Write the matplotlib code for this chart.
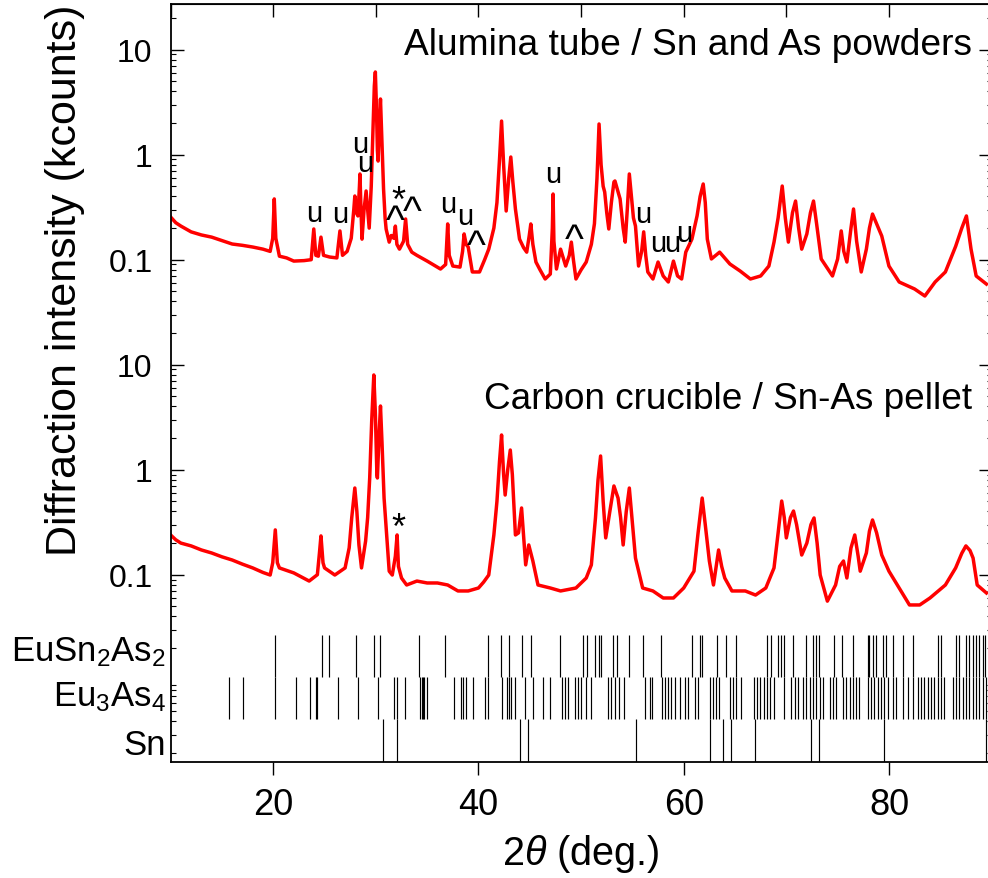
import numpy as np
import matplotlib
matplotlib.use("Agg")
import matplotlib.pyplot as plt
from matplotlib.ticker import FixedLocator, FixedFormatter, LogLocator, NullFormatter

plt.rcParams['font.family'] = ['Liberation Sans', 'DejaVu Sans']
plt.rcParams['mathtext.fontset'] = 'custom'
plt.rcParams['mathtext.rm'] = 'Liberation Sans'
plt.rcParams['mathtext.it'] = 'Liberation Sans:italic'

# Pattern 1: alumina tube / Sn and As powders (kcounts)
tth_top = [10, 10.5, 11, 12, 13, 14, 15, 16, 17, 18, 19, 19.7, 19.95, 20.1, 20.25, 20.6, 21.3,
           22, 23, 23.7, 23.95, 24.15, 24.4, 24.65, 24.9, 25.5, 26.2, 26.5, 26.75, 27.2, 27.6,
           27.85, 27.95, 28.1, 28.25, 28.4, 28.45, 28.55, 28.65, 28.85, 29.05, 29.2, 29.35,
           29.55, 29.7, 29.85, 29.95, 30.05, 30.15, 30.22, 30.32, 30.45, 30.6, 30.75, 30.9,
           31.0, 31.3, 31.5, 31.75, 31.9, 32.05, 32.3, 32.7, 32.9, 33.1, 33.5, 34, 35, 36.3,
           36.8, 37.0, 37.15, 37.5, 38.2, 38.45, 38.6, 38.8, 39.0, 39.4, 40.1, 40.6, 41.0,
           41.5, 41.8, 42.05, 42.25, 42.45, 42.7, 42.95, 43.15, 43.35, 43.6, 44.0, 44.4, 44.7,
           44.95, 45.1, 45.3, 45.6, 46.0, 46.5, 47.0, 47.2, 47.27, 47.35, 47.6, 48.0, 48.5,
           48.85, 49.05, 49.25, 49.5, 50.0, 50.5, 51.0, 51.3, 51.55, 51.75, 51.95, 52.15,
           52.3, 52.5, 52.7, 52.95, 53.2, 53.3, 53.5, 53.8, 54.1, 54.3, 54.5, 54.7, 54.9,
           55.1, 55.3, 55.6, 55.9, 56.1, 56.3, 56.5, 57.0, 57.5, 58.0, 58.5, 59.0, 59.4, 59.8,
           60.2, 60.8, 61.3, 61.6, 61.9, 62.1, 62.3, 62.7, 63.5, 64.5, 65.5, 66.5, 67.5, 68.3,
           68.8, 69.2, 69.6, 69.9, 70.2, 70.6, 70.9, 71.2, 71.5, 72.0, 72.35, 72.65, 72.95,
           73.4, 74.5, 75.0, 75.35, 75.6, 75.9, 76.3, 76.55, 76.85, 77.3, 77.8, 78.1, 78.4,
           78.8, 79.3, 80.0, 81.0, 82.5, 83.5, 84.5, 85.5, 86.5, 87.1, 87.55, 88.0, 88.5, 89.5]
int_top = [0.255, 0.225, 0.209, 0.184, 0.172, 0.164, 0.152, 0.141, 0.137, 0.132, 0.126, 0.12,
           0.16, 0.379, 0.16, 0.108, 0.104, 0.097, 0.098, 0.1, 0.196, 0.11, 0.108, 0.164, 0.11,
           0.106, 0.104, 0.188, 0.11, 0.12, 0.16, 0.3, 0.404, 0.28, 0.261, 0.5, 0.655, 0.3,
           0.157, 0.3, 0.451, 0.3, 0.2, 0.5, 1.5, 4.5, 6.13, 3.0, 1.1, 0.87, 1.8, 3.39, 1.3,
           0.471, 0.25, 0.196, 0.147, 0.17, 0.16, 0.209, 0.14, 0.126, 0.15, 0.244, 0.14, 0.118,
           0.11, 0.097, 0.0815, 0.09, 0.219, 0.11, 0.087, 0.085, 0.12, 0.176, 0.14, 0.132,
           0.0764, 0.0764, 0.1, 0.126, 0.2, 0.35, 0.9, 2.09, 0.8, 0.291, 0.6, 0.95, 0.55,
           0.304, 0.157, 0.13, 0.118, 0.17, 0.219, 0.14, 0.095, 0.08, 0.0655, 0.073, 0.2,
           0.422, 0.15, 0.0815, 0.126, 0.087, 0.11, 0.147, 0.1, 0.0655, 0.08, 0.095, 0.14,
           0.22, 0.6, 1.96, 0.8, 0.5, 0.441, 0.28, 0.196, 0.35, 0.55, 0.562, 0.48, 0.379, 0.2,
           0.147, 0.3, 0.655, 0.4, 0.25, 0.209, 0.087, 0.12, 0.184, 0.11, 0.0764, 0.0655,
           0.095, 0.07, 0.0613, 0.097, 0.07, 0.0655, 0.118, 0.157, 0.261, 0.4, 0.526, 0.35,
           0.157, 0.1016, 0.118, 0.091, 0.078, 0.0655, 0.070, 0.087, 0.147, 0.25, 0.503, 0.25,
           0.147, 0.28, 0.362, 0.2, 0.126, 0.176, 0.28, 0.362, 0.22, 0.1016, 0.070, 0.1016,
           0.188, 0.12, 0.095, 0.2, 0.304, 0.15, 0.0764, 0.126, 0.2, 0.272, 0.22, 0.168, 0.087,
           0.0613, 0.0526, 0.0451, 0.0613, 0.0764, 0.134, 0.2, 0.261, 0.126, 0.070, 0.0586]

# Pattern 2: carbon crucible / Sn-As pellet (kcounts)
tth_bot = [10, 10.5, 11, 12, 13, 14, 15, 16, 17, 18, 19, 19.7, 19.95, 20.2, 20.4, 20.6, 22,
           23.5, 24.3, 24.5, 24.65, 24.85, 25.0, 26.0, 27.0, 27.4, 27.65, 27.95, 28.15, 28.35,
           28.6, 29.0, 29.2, 29.4, 29.6, 29.8, 29.95, 30.1, 30.15, 30.3, 30.45, 30.6, 30.8,
           31.0, 31.3, 31.6, 31.9, 32.07, 32.2, 32.5, 33, 34, 35, 36, 37, 38, 39, 40, 40.5,
           41, 41.5, 41.8, 42.05, 42.25, 42.45, 42.6, 42.85, 43.1, 43.3, 43.6, 43.9, 44.2,
           44.45, 44.6, 44.9, 45.3, 45.8, 47, 48, 49.5, 50.5, 51.0, 51.4, 51.65, 51.9, 52.15,
           52.4, 52.8, 53.2, 53.6, 53.85, 54.1, 54.4, 54.7, 54.95, 55.3, 56, 57, 58, 59, 60,
           61, 61.4, 61.8, 62.1, 62.5, 62.9, 63.4, 63.7, 64, 64.7, 66, 67, 68, 68.8, 69.2,
           69.55, 69.8, 70.0, 70.4, 70.7, 71.0, 71.5, 72.0, 72.4, 72.7, 73.0, 73.3, 74, 74.8,
           75.2, 75.57, 75.9, 76.3, 76.67, 77.0, 77.2, 77.8, 78.1, 78.4, 78.8, 79.3, 80, 81,
           82, 83, 84, 85.5, 86.5, 87.1, 87.5, 87.9, 88.2, 88.6, 89.5]
int_bot = [0.239, 0.215, 0.200, 0.188, 0.172, 0.161, 0.148, 0.138, 0.126, 0.116, 0.105, 0.0993,
           0.13, 0.267, 0.13, 0.116, 0.104, 0.087, 0.1, 0.16, 0.234, 0.13, 0.116, 0.0993, 0.116,
           0.18, 0.35, 0.669, 0.4, 0.192, 0.116, 0.209, 0.35, 0.834, 3.0, 7.98, 3.5, 0.9,
           0.834, 2.0, 4.04, 1.8, 0.537, 0.279, 0.108, 0.0993, 0.15, 0.239, 0.12, 0.093,
           0.0798, 0.087, 0.0834, 0.0834, 0.0798, 0.070, 0.070, 0.0747, 0.085, 0.0993, 0.239,
           0.5, 1.2, 2.14, 0.9, 0.574, 1.0, 1.54, 0.9, 0.239, 0.25, 0.432, 0.2, 0.124, 0.192,
           0.135, 0.0798, 0.0747, 0.070, 0.0747, 0.093, 0.124, 0.347, 0.8, 1.35, 0.5, 0.224,
           0.4, 0.700, 0.537, 0.35, 0.192, 0.4, 0.669, 0.35, 0.144, 0.0747, 0.070, 0.060,
           0.060, 0.0747, 0.108, 0.25, 0.537, 0.3, 0.135, 0.0798, 0.172, 0.12, 0.093, 0.070,
           0.070, 0.064, 0.0747, 0.116, 0.25, 0.503, 0.35, 0.224, 0.35, 0.404, 0.3, 0.154,
           0.2, 0.3, 0.347, 0.2, 0.0993, 0.056, 0.0798, 0.12, 0.135, 0.093, 0.18, 0.239, 0.15,
           0.108, 0.161, 0.26, 0.332, 0.25, 0.154, 0.108, 0.0747, 0.0515, 0.0515, 0.060,
           0.0798, 0.116, 0.16, 0.188, 0.17, 0.144, 0.0798, 0.067]

# Peak markers on pattern 1 (position, intensity level, symbol)
mark_x = [23.99, 26.49, 28.43, 28.92, 31.92, 32.17, 33.53, 37.04, 38.67, 39.80, 47.27,
          49.31, 56.03, 57.49, 58.89, 60.09]
mark_y = [0.235, 0.227, 1.054, 0.705, 0.184, 0.293, 0.225, 0.283, 0.219, 0.106, 0.546,
          0.120, 0.227, 0.122, 0.122, 0.152]
mark_s = ['u', 'u', 'u', 'u', '^', '*', '^', 'u', 'u', '^', 'u', '^', 'u', 'u', 'u', 'u']
# marker on pattern 2
mark2_x = [32.17]
mark2_y = [0.224]
mark2_s = ['*']

# Reflection positions
eusn2as2 = [20.17, 24.71, 25.42, 28.05, 29.80, 30.42, 34.19, 36.72, 40.93, 42.17, 42.98, 44.28,
            45.16, 47.92, 50.18, 50.57, 51.39, 51.74, 51.98, 53.11, 53.53, 54.66, 56.03, 57.75,
            60.80, 61.55, 61.81, 63.23, 64.15, 65.12, 68.10, 68.53, 69.17, 69.50, 69.73, 70.63,
            71.87, 72.58, 72.91, 73.16, 74.60, 75.44, 76.48, 77.94, 78.10, 78.42, 78.75, 79.40,
            79.73, 80.37, 81.34, 82.32, 84.75, 85.08, 86.54, 86.86, 87.52, 87.84, 88.16, 88.49,
            88.81, 89.13, 89.40]
eu3as4 = [15.72, 17.02, 20.17, 22.21, 23.57, 24.16, 24.28, 26.33, 28.22, 30.17, 31.75, 32.02,
          32.83, 34.35, 34.45, 34.55, 34.68, 34.94, 37.60, 38.25, 38.51, 38.83, 39.42, 40.61,
          40.94, 42.34, 42.79, 42.99, 43.21, 43.54, 44.51, 45.32, 46.30, 47.01, 48.18, 48.41,
          48.73, 49.38, 49.70, 50.03, 50.51, 51.00, 52.62, 52.95, 53.27, 53.70, 54.18, 56.19,
          56.68, 56.94, 57.91, 58.14, 58.46, 58.79, 59.11, 59.60, 60.09, 60.41, 61.06, 61.39,
          62.59, 62.85, 63.17, 63.43, 64.47, 64.80, 65.12, 65.61, 66.81, 67.13, 67.46, 67.78,
          68.11, 68.43, 68.76, 69.73, 70.48, 70.80, 71.13, 71.61, 71.94, 72.26, 72.59, 72.91,
          73.24, 73.56, 74.21, 74.53, 74.86, 75.51, 75.83, 76.16, 76.48, 76.81, 77.13, 77.94,
          78.27, 78.59, 78.92, 79.24, 79.56, 79.89, 80.37, 80.70, 81.41, 81.84, 82.32, 82.81,
          83.14, 83.46, 83.79, 84.11, 84.43, 84.76, 85.08, 85.41, 86.22, 86.54, 86.87, 87.19,
          87.52, 87.84, 88.16, 88.49, 88.81, 89.14, 89.46]
sn = [30.74, 32.04, 44.01, 44.84, 55.36, 62.53, 63.84, 64.57, 66.96, 72.42, 73.20, 79.55, 89.43]
phase_names = ['EuSn$_2$As$_2$', 'Eu$_3$As$_4$', 'Sn']

fig = plt.figure(figsize=(9.88, 8.79), dpi=100)
ax = fig.add_axes([0.1727, 0.1323, 0.8309, 0.862])

ax.plot(tth_top, int_top, color='#ff0000', lw=2.5)
ax.plot(tth_bot, np.array(int_bot) * 1e-3, color='#ff0000', lw=2.5)

for x, y, s in zip(mark_x, mark_y, mark_s):
    fs = 21 if s == 'u' else (29 if s == '^' else 26)
    ax.text(x, y, s, ha='center', va='baseline', fontsize=fs)
for x, y, s in zip(mark2_x, mark2_y, mark2_s):
    ax.text(x, y * 1e-3, s, ha='center', va='baseline', fontsize=26)

ax.text(0.9763, 0.934, 'Alumina tube / Sn and As powders', transform=ax.transAxes,
        ha='right', va='baseline', fontsize=26.7)
ax.text(0.9763, 0.467, 'Carbon crucible / Sn-As pellet', transform=ax.transAxes,
        ha='right', va='baseline', fontsize=26.6)

# reflection markers
rows = [(eusn2as2, 0.1118, 0.1672), (eu3as4, 0.0564, 0.1118), (sn, 0.0, 0.0564)]
tr = ax.get_xaxis_transform()
for pos, y0, y1 in rows:
    ax.vlines(pos, y0, y1, transform=tr, colors='k', lw=0.85)
label_y = [0.1333, 0.0739, 0.0102]
for name, yl in zip(phase_names, label_y):
    ax.text(-0.0056, yl, name, transform=ax.transAxes, ha='right', va='baseline', fontsize=25)

ax.set_xlim(10, 90)
ax.set_yscale('log')
ax.set_ylim(10 ** -5.781, 10 ** 1.435)

ax.set_xticks([20, 40, 60, 80])
ax.tick_params(axis='x', which='major', direction='out', length=9.5, width=1, labelsize=26,
               pad=9, top=False)
sec = ax.secondary_xaxis('top')
sec.set_xticks(np.arange(10, 91, 10))
sec.tick_params(direction='in', length=9.5, width=1, labeltop=False)

ax.yaxis.set_major_locator(FixedLocator([10, 1, 0.1, 1e-2, 1e-3, 1e-4]))
ax.yaxis.set_major_formatter(FixedFormatter(['10', '1', '0.1', '10', '1', '0.1']))
ax.yaxis.set_minor_locator(LogLocator(base=10, subs=np.arange(2, 10), numticks=30))
ax.yaxis.set_minor_formatter(NullFormatter())
ax.tick_params(axis='y', which='major', direction='in', length=9.5, width=1, labelsize=23,
               pad=13, right=True)
ax.tick_params(axis='y', which='minor', direction='in', length=3.5, width=0.8, right=True)

for sp in ax.spines.values():
    sp.set_linewidth(1.3)

ax.set_xlabel(r'2$\it{\theta}$ (deg.)', fontsize=28.5, labelpad=7)
ax.set_ylabel('Diffraction intensity (kcounts)', fontsize=31)
ax.yaxis.set_label_coords(-0.104, 0.637)

fig.savefig('out.png', dpi=100)
